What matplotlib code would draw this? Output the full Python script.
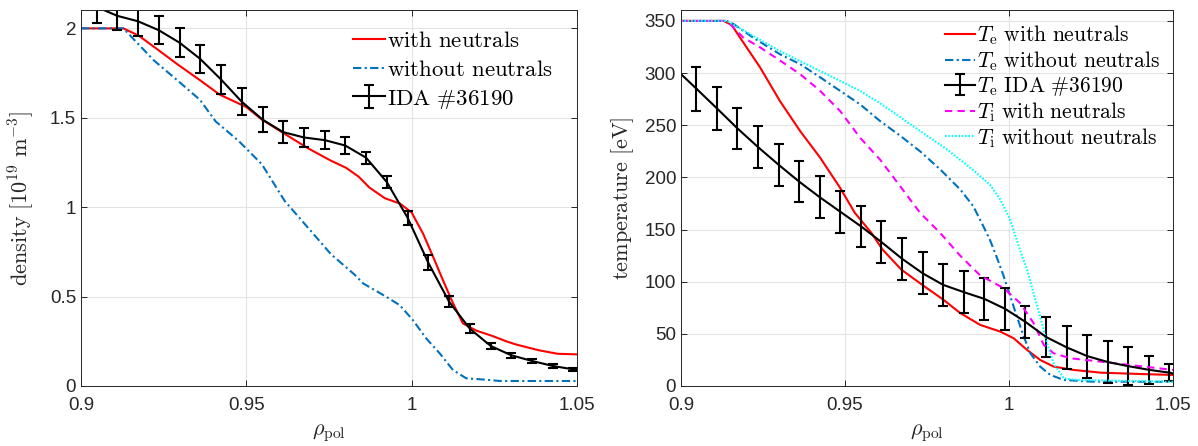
import numpy as np
import matplotlib
matplotlib.use("Agg")
import matplotlib.pyplot as plt

plt.rcParams['font.family'] = ['Liberation Sans', 'DejaVu Sans']
plt.rcParams['mathtext.fontset'] = 'cm'

# ==========================================
# Données
# ==========================================

# points IDA (communs aux deux panneaux)
rho_ida = [0.9047, 0.9110, 0.9172, 0.9235, 0.9298, 0.9360, 0.9423, 0.9486,
           0.9549, 0.9611, 0.9674, 0.9737, 0.9799, 0.9862, 0.9925, 0.9988,
           1.0050, 1.0113, 1.0176, 1.0239, 1.0301, 1.0364, 1.0427, 1.0489]

# densité [1e19 m^-3]
ne_ida = [2.12, 2.07, 2.04, 1.99, 1.92, 1.83, 1.715, 1.59, 1.49, 1.42, 1.39, 1.375,
          1.345, 1.277, 1.14, 0.94, 0.69, 0.472, 0.32, 0.224, 0.172, 0.14, 0.112, 0.093]
ne_err = [0.09, 0.08, 0.08, 0.08, 0.08, 0.078, 0.08, 0.077, 0.07, 0.062, 0.054, 0.05,
          0.045, 0.033, 0.033, 0.04, 0.04, 0.03, 0.024, 0.018, 0.014, 0.012, 0.01, 0.008]
ne_ida_bord = [2.15, 0.09]   # valeurs de la courbe en 0.9 et 1.05

rho_ne_avec = [0.9, 0.9128, 0.9174, 0.9233, 0.9291, 0.9360, 0.9419, 0.9500, 0.9547,
               0.9616, 0.9686, 0.9756, 0.9802, 0.9840, 0.9872, 0.9919, 0.9965, 1.0,
               1.0035, 1.0070, 1.0095, 1.0125, 1.0155, 1.0195, 1.0244, 1.0286, 1.0314,
               1.0384, 1.0442, 1.05]
ne_avec = [2.0, 2.0, 1.96, 1.88, 1.80, 1.71, 1.63, 1.56, 1.49, 1.41, 1.33, 1.26, 1.22,
           1.17, 1.11, 1.05, 1.02, 0.97, 0.85, 0.70, 0.59, 0.463, 0.35, 0.31, 0.28,
           0.25, 0.233, 0.20, 0.18, 0.177]

rho_ne_sans = [0.9, 0.9128, 0.9221, 0.9291, 0.9360, 0.9407, 0.9477, 0.9547, 0.9616,
               0.9686, 0.9756, 0.9826, 0.9854, 0.9924, 0.9964, 1.0004, 1.0044, 1.0085,
               1.0125, 1.0165, 1.0226, 1.0267, 1.05]
ne_sans = [2.0, 2.0, 1.82, 1.71, 1.60, 1.48, 1.37, 1.24, 1.035, 0.886, 0.737, 0.625,
           0.573, 0.498, 0.452, 0.368, 0.266, 0.182, 0.089, 0.043, 0.035, 0.028, 0.028]

# température [eV]
te_ida = [285, 266, 247, 229, 212, 196, 181, 167, 153, 138, 122, 108, 97, 90, 83.5,
          74, 61.5, 47, 37, 28.6, 23, 19, 15.5, 12.8]
te_err = [21, 20.7, 20, 20, 20, 20, 20, 20, 20, 20, 20, 20, 20, 20, 20, 20, 15.5, 19,
          20.5, 20.5, 20, 18.5, 13.5, 8]
te_ida_bord = [299, 12]

rho_te_avec = [0.9, 0.913, 0.9155, 0.918, 0.9241, 0.9302, 0.9363, 0.9424, 0.9485,
               0.953, 0.958, 0.9614, 0.9672, 0.9742, 0.98, 0.9851, 0.9912, 0.9973,
               1.0014, 1.0055, 1.0095, 1.0136, 1.0197, 1.0279, 1.04, 1.05]
te_avec = [350, 350, 346, 334, 305.5, 273, 244.5, 219, 190, 166, 147, 131, 111.5, 95.5,
           82.7, 70, 58.6, 52.2, 45.8, 34.6, 25, 18.6, 15.4, 12.8, 11.5, 10.6]

rho_te_sans = [0.9, 0.914, 0.916, 0.922, 0.9302, 0.9363, 0.9424, 0.9485, 0.9546,
               0.9607, 0.9668, 0.9729, 0.979, 0.9851, 0.9891, 0.9922, 0.9942, 0.9962,
               0.9983, 1.0004, 1.0024, 1.0045, 1.0065, 1.0095, 1.0126, 1.0167, 1.025,
               1.05]
te_sans = [350, 350, 347, 334, 318, 308.6, 296, 283, 270, 254, 240, 225, 207.7, 188.5,
           172.4, 153, 140, 124, 106, 86, 66.6, 47.4, 31.4, 18.6, 10.6, 5.8, 4.2, 4]

rho_ti_avec = [0.9, 0.914, 0.919, 0.9241, 0.9302, 0.9363, 0.9424, 0.9485, 0.9546,
               0.9607, 0.9668, 0.9729, 0.979, 0.9851, 0.9912, 0.9983, 1.0034, 1.0075,
               1.0106, 1.0136, 1.0187, 1.0279, 1.04, 1.05]
ti_avec = [350, 350, 334, 324.7, 312, 299, 283, 263.7, 238, 217, 191.6, 166, 146.8,
           125, 106, 94, 79.5, 60.3, 39.4, 31.4, 26.6, 23.4, 19, 15.4]

rho_ti_sans = [0.9, 0.914, 0.9302, 0.9424, 0.9546, 0.9607, 0.9663, 0.9708, 0.981,
               0.9891, 0.9942, 0.9973, 1.0003, 1.0034, 1.0055, 1.0075, 1.0095, 1.0116,
               1.0136, 1.0167, 1.0207, 1.05]
ti_sans = [350, 350, 321, 302, 283, 271, 259, 249, 227, 207, 193, 179, 160,
           130, 111.5, 89, 66.6, 41, 21.8, 7.4, 5.8, 4]

# ==========================================
# Style
# ==========================================
bleu = '#0072BD'
gris_axe = '#262626'
lw = 1.5
taille_tick = 13.5
taille_label = 16


def style_axe(ax):
    ax.grid(True, color='#e3e3e3', linewidth=0.8)
    ax.set_axisbelow(True)
    ax.tick_params(direction='in', top=True, right=True, length=4,
                   labelsize=taille_tick, colors=gris_axe, width=0.7)
    ax.tick_params(axis='x', pad=8)
    for s in ax.spines.values():
        s.set_color(gris_axe)
        s.set_linewidth(0.7)
    ax.set_xlim(0.9, 1.05)
    ax.set_xticks([0.9, 0.95, 1.0, 1.05])
    ax.set_xticklabels(['0.9', '0.95', '1', '1.05'])
    ax.set_xlabel(r'$\rho_\mathrm{pol}$', fontsize=taille_label, color=gris_axe,
                  labelpad=6)


def courbe_ida(ax, y, err, bord, label):
    ax.plot([0.9, rho_ida[0]], [bord[0], y[0]], color='k', lw=lw)
    ax.plot([rho_ida[-1], 1.05], [y[-1], bord[1]], color='k', lw=lw)
    ax.errorbar(rho_ida, y, yerr=err, color='k', lw=lw, elinewidth=lw,
                capsize=3.5, capthick=lw, label=label)


fig = plt.figure(figsize=(11.98, 4.46), dpi=100)
ax1 = fig.add_axes([81 / 1198, 1 - 386 / 446, 496 / 1198, 375.5 / 446])
ax2 = fig.add_axes([681 / 1198, 1 - 386 / 446, 492 / 1198, 375.5 / 446])

# --- densité ---
ax1.plot(rho_ne_avec, ne_avec, color='red', lw=lw, label=r'$\mathrm{with\ neutrals}$')
ax1.plot(rho_ne_sans, ne_sans, color=bleu, lw=lw, dashes=(4, 1.6, 1, 1.6),
         label=r'$\mathrm{without\ neutrals}$')
courbe_ida(ax1, ne_ida, ne_err, ne_ida_bord, r'$\mathrm{IDA\ \#36190}$')
style_axe(ax1)
ax1.set_ylim(0, 2.1)
ax1.set_yticks([0, 0.5, 1, 1.5, 2])
ax1.set_yticklabels(['0', '0.5', '1', '1.5', '2'])
ax1.set_ylabel(r'$\mathrm{density}\ [10^{19}\ \mathrm{m}^{-3}]$', fontsize=taille_label,
               color=gris_axe, labelpad=10)
ax1.legend(loc='upper right', bbox_to_anchor=(0.97, 0.975), frameon=False,
           fontsize=16.5, handlelength=1.4, handletextpad=0.1, labelspacing=0.25,
           borderaxespad=0)

# --- température ---
ax2.plot(rho_te_avec, te_avec, color='red', lw=lw,
         label=r'$T_\mathrm{e}\ \mathrm{with\ neutrals}$')
ax2.plot(rho_te_sans, te_sans, color=bleu, lw=lw, dashes=(4, 1.6, 1, 1.6),
         label=r'$T_\mathrm{e}\ \mathrm{without\ neutrals}$')
courbe_ida(ax2, te_ida, te_err, te_ida_bord, r'$T_\mathrm{e}\ \mathrm{IDA\ \#36190}$')
ax2.plot(rho_ti_avec, ti_avec, color='magenta', lw=lw, dashes=(3.5, 2.5),
         label=r'$T_\mathrm{i}\ \mathrm{with\ neutrals}$')
ax2.plot(rho_ti_sans, ti_sans, color='cyan', lw=lw, dashes=(0.8, 0.8),
         label=r'$T_\mathrm{i}\ \mathrm{without\ neutrals}$')
style_axe(ax2)
ax2.set_ylim(0, 360)
ax2.set_yticks(np.arange(0, 351, 50))
ax2.set_ylabel(r'$\mathrm{temperature}\ [\mathrm{eV}]$', fontsize=taille_label,
               color=gris_axe, labelpad=6)

poignees, textes = ax2.get_legend_handles_labels()
ordre = [0, 1, 4, 2, 3]
ax2.legend([poignees[i] for i in ordre], [textes[i] for i in ordre],
           loc='upper right', frameon=False, fontsize=15.5, handlelength=1.4,
           handletextpad=0.1, labelspacing=0.1, borderaxespad=0.2)

fig.savefig('out.png', dpi=100)
plt.close('all')
